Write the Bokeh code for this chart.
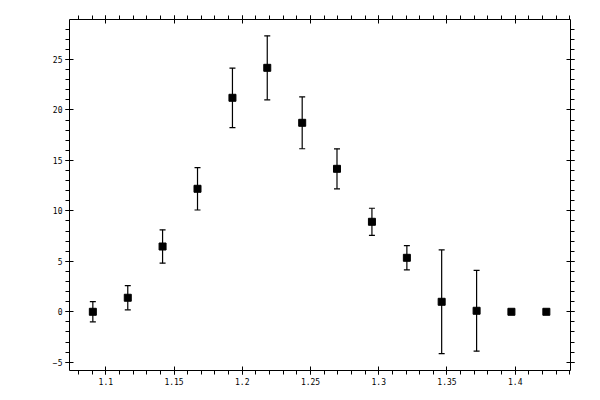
import numpy as np
from bokeh.plotting import figure
from bokeh.models import (ColumnDataSource, Whisker, TeeHead, LinearAxis,
                          SingleIntervalTicker, NumeralTickFormatter, Range1d)
from bokeh.embed import file_html
from bokeh.resources import INLINE

# data
x_vals = [1.0905, 1.1161, 1.1416, 1.1672, 1.1928, 1.2183, 1.2439,
          1.2694, 1.2950, 1.3206, 1.3461, 1.3717, 1.3972, 1.4228]
y_vals = [0.0, 1.39, 6.47, 12.19, 21.21, 24.18, 18.73,
          14.17, 8.92, 5.35, 0.99, 0.10, 0.0, 0.0]
y_errs = [1.0, 1.2, 1.65, 2.1, 2.95, 3.17, 2.57,
          1.98, 1.34, 1.2, 5.14, 4.0, 0.0, 0.0]

x = np.array(x_vals)
y = np.array(y_vals)
e = np.array(y_errs)
has_err = e > 0

pts = ColumnDataSource(dict(x=x, y=y))
errs = ColumnDataSource(dict(x=x[has_err], upper=(y + e)[has_err], lower=(y - e)[has_err]))

FONT = "DejaVu Sans Mono"

p = figure(width=592, height=392, output_backend="svg", toolbar_location=None,
           x_range=Range1d(1.0734, 1.4405), y_range=Range1d(-5.82, 28.97),
           x_axis_location=None, y_axis_location=None,
           min_border_left=69, min_border_right=22, min_border_top=19, min_border_bottom=22)
p.outline_line_color = None
p.xgrid.visible = False
p.ygrid.visible = False
p.background_fill_color = "white"
p.border_fill_color = "white"


def style(ax, labels=True):
    ax.axis_line_color = "black"
    ax.axis_line_width = 1
    ax.major_tick_in = 4
    ax.major_tick_out = 4
    ax.minor_tick_in = 0
    ax.minor_tick_out = 4
    ax.major_tick_line_color = "black"
    ax.minor_tick_line_color = "black"
    ax.major_label_text_font = FONT
    ax.major_label_text_font_size = "8px"
    ax.major_label_text_color = "black"
    ax.major_label_standoff = 3
    if not labels:
        ax.major_label_text_color = None
        ax.major_label_standoff = 0


for loc in ["below", "above"]:
    ax = LinearAxis(ticker=SingleIntervalTicker(interval=0.05, num_minor_ticks=5),
                    formatter=NumeralTickFormatter(format="0.[00]"))
    style(ax, labels=(loc == "below"))
    p.add_layout(ax, loc)

for loc in ["left", "right"]:
    ax = LinearAxis(ticker=SingleIntervalTicker(interval=5, num_minor_ticks=5))
    style(ax, labels=(loc == "left"))
    p.add_layout(ax, loc)

w = Whisker(base="x", upper="upper", lower="lower", source=errs,
            line_color="black", line_width=1.2,
            upper_head=TeeHead(size=6, line_color="black", line_width=1.2),
            lower_head=TeeHead(size=6, line_color="black", line_width=1.2))
p.add_layout(w)

p.scatter("x", "y", source=pts, marker="square", size=7,
          fill_color="black", line_color="black")

open("out.html", "w").write(file_html(p, INLINE))
